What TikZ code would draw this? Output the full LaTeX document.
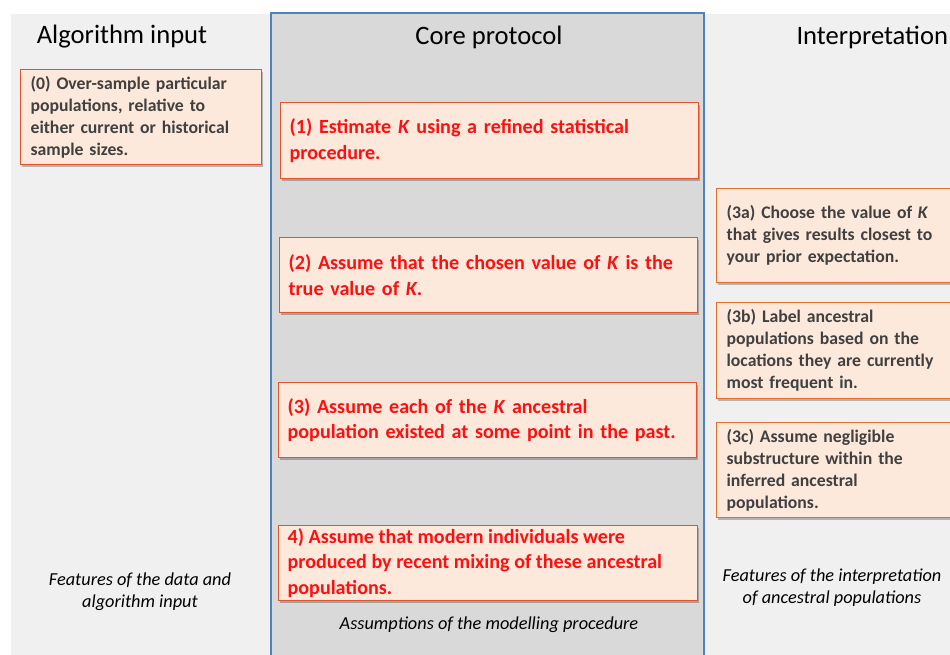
\documentclass[tikz,border=0pt]{standalone}
\usepackage{fontspec}
\setmainfont{Carlito}
\usetikzlibrary{shadows}
\definecolor{panelL}{HTML}{F0F0F0}
\definecolor{panelC}{HTML}{D9D9D9}
\definecolor{panelB}{HTML}{4F81BD}
\definecolor{boxfill}{HTML}{FDE9DC}
\definecolor{boxline}{HTML}{E4532B}
\definecolor{boxline2}{HTML}{E46C2A}
\definecolor{txtgray}{HTML}{404040}
\definecolor{txtred}{HTML}{FF1010}
\tikzset{
  panel/.style={fill=panelL, draw=none},
  corepanel/.style={fill=panelC, draw=panelB, line width=1.2pt},
  boxbase/.style={rectangle, fill=boxfill, draw=boxline, line width=1.2pt, anchor=north west,
     inner xsep=10pt, inner ysep=1pt,
     drop shadow={shadow xshift=1pt, shadow yshift=-2pt, fill=black, opacity=0.25}},
  graybox/.style={boxbase, align=left, text=txtgray, font=\fontsize{17.7}{22}\selectfont\bfseries},
  graybox2/.style={graybox, draw=boxline2},
  redbox/.style={boxbase, align=left, text=txtred, font=\fontsize{20.1}{25.5}\selectfont\bfseries},
  redboxfixed/.style={boxbase, text=txtred, font=\fontsize{20.1}{25.5}\selectfont\bfseries},
  title/.style={font=\fontsize{26.6}{30}\selectfont, text=black},
  note/.style={font=\fontsize{18.3}{22}\selectfont\itshape, text=black, align=center},
}
\begin{document}
\begin{tikzpicture}[x=1pt, y=-1pt]
\fill[white] (0,0) rectangle (950,654);
\useasboundingbox (0,0) rectangle (950,654);
\clip (0,0) rectangle (950,654);
% panels
\fill[panel] (11,14) rectangle (271,660);
\fill[panel] (704,14) rectangle (960,660);
\draw[corepanel] (271,13) rectangle (704,660);
% titles
\node[title] (tL) at (122,37) {Algorithm input};
\node[title] (tC) at (489,37) {Core protocol};
\node[title, anchor=west] (tR) at (793,37) {Interpretation};
% boxes
\node[graybox, text width=221pt, minimum height=95pt] (b0) at (20,69)
  {(0) Over-sample particular\\ populations, relative to\\ either current or historical\\ sample sizes.};
\node[redbox, text width=400pt, inner xsep=9pt, minimum height=76pt] (b1) at (280,102)
  {(1) Estimate \textit{K} using a refined statistical\\ procedure.};
\node[redbox, text width=400pt, inner xsep=9pt, minimum height=75pt] (b2) at (279,237)
  {(2) Assume that the chosen value of \textit{K} is the\\ true value of \textit{K}.};
\node[redbox, text width=400pt, inner xsep=9pt, minimum height=75pt] (b3) at (278,382)
  {(3) Assume each of the \textit{K} ancestral\\ population existed at some point in the past.};
\node[redboxfixed, inner xsep=9pt, inner ysep=1pt] (b4) at (278,525)
  {\parbox[c][73pt][c]{401pt}{\raggedright 4) Assume that modern individuals were\\ produced by recent mixing of these ancestral\\ populations.}};
\node[graybox2, text width=235pt, minimum height=94pt] (b3a) at (716,188)
  {(3a) Choose the value of \textit{K}\\ that gives results closest to\\ your prior expectation.};
\node[graybox2, text width=235pt, minimum height=96pt] (b3b) at (716,302)
  {(3b) Label ancestral\\ populations based on the\\ locations they are currently\\ most frequent in.};
\node[graybox2, text width=235pt, minimum height=95pt] (b3c) at (716,422)
  {(3c) Assume negligible\\ substructure within the\\ inferred ancestral\\ populations.};
% notes
\node[note] (nL) at (140,592) {Features of the data and\\ algorithm input};
\node[note] (nC) at (489,625) {Assumptions of the modelling procedure};
\node[note] (nR) at (832,588) {Features of the interpretation\\ of ancestral populations};
\end{tikzpicture}
\end{document}
